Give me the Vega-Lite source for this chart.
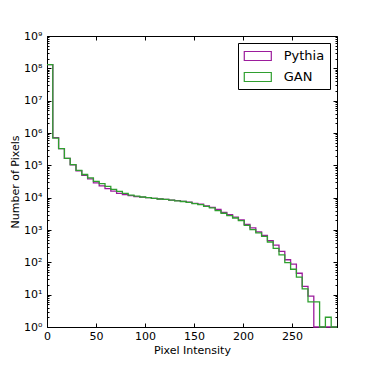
{
  "$schema": "https://vega.github.io/schema/vega-lite/v6.json",
  "width": 290,
  "height": 291,
  "autosize": {"type": "none"},
  "padding": {"left": 47, "top": 36, "right": 37, "bottom": 47},
  "background": "white",
  "config": {
    "view": {"stroke": "black", "strokeWidth": 1},
    "font": "DejaVu Sans",
    "axis": {
      "domainColor": "black",
      "tickColor": "black",
      "labelColor": "black",
      "titleColor": "black",
      "labelFont": "DejaVu Sans",
      "titleFont": "DejaVu Sans",
      "labelFontSize": 11,
      "titleFontSize": 11,
      "titleFontWeight": "normal",
      "grid": false,
      "zindex": 1
    }
  },
  "data": {
    "values": [
      {"series": "Pythia", "x": 0, "count": 130000000},
      {"series": "Pythia", "x": 5.92, "count": 720000},
      {"series": "Pythia", "x": 11.84, "count": 330000},
      {"series": "Pythia", "x": 17.76, "count": 165000},
      {"series": "Pythia", "x": 23.68, "count": 103000},
      {"series": "Pythia", "x": 29.6, "count": 68000},
      {"series": "Pythia", "x": 35.52, "count": 49000},
      {"series": "Pythia", "x": 41.44, "count": 38000},
      {"series": "Pythia", "x": 47.36, "count": 28500},
      {"series": "Pythia", "x": 53.28, "count": 23000},
      {"series": "Pythia", "x": 59.2, "count": 19000},
      {"series": "Pythia", "x": 65.12, "count": 16000},
      {"series": "Pythia", "x": 71.04, "count": 13600},
      {"series": "Pythia", "x": 76.96, "count": 12400},
      {"series": "Pythia", "x": 82.88, "count": 11500},
      {"series": "Pythia", "x": 88.8, "count": 10700},
      {"series": "Pythia", "x": 94.72, "count": 10400},
      {"series": "Pythia", "x": 100.64, "count": 10000},
      {"series": "Pythia", "x": 106.56, "count": 9500},
      {"series": "Pythia", "x": 112.48, "count": 9100},
      {"series": "Pythia", "x": 118.4, "count": 8850},
      {"series": "Pythia", "x": 124.32, "count": 8400},
      {"series": "Pythia", "x": 130.24, "count": 8100},
      {"series": "Pythia", "x": 136.16, "count": 7700},
      {"series": "Pythia", "x": 142.08, "count": 7300},
      {"series": "Pythia", "x": 148, "count": 6700},
      {"series": "Pythia", "x": 153.92, "count": 6300},
      {"series": "Pythia", "x": 159.84, "count": 5600},
      {"series": "Pythia", "x": 165.76, "count": 5000},
      {"series": "Pythia", "x": 171.68, "count": 4300},
      {"series": "Pythia", "x": 177.6, "count": 3500},
      {"series": "Pythia", "x": 183.52, "count": 3000},
      {"series": "Pythia", "x": 189.44, "count": 2500},
      {"series": "Pythia", "x": 195.36, "count": 2050},
      {"series": "Pythia", "x": 201.28, "count": 1500},
      {"series": "Pythia", "x": 207.2, "count": 1160},
      {"series": "Pythia", "x": 213.12, "count": 870},
      {"series": "Pythia", "x": 219.04, "count": 685},
      {"series": "Pythia", "x": 224.96, "count": 467},
      {"series": "Pythia", "x": 230.88, "count": 343},
      {"series": "Pythia", "x": 236.8, "count": 217},
      {"series": "Pythia", "x": 242.72, "count": 120},
      {"series": "Pythia", "x": 248.64, "count": 88},
      {"series": "Pythia", "x": 254.56, "count": 46},
      {"series": "Pythia", "x": 260.48, "count": 18},
      {"series": "Pythia", "x": 266.4, "count": 9},
      {"series": "Pythia", "x": 272.32, "count": 0},
      {"series": "Pythia", "x": 278.24, "count": 0},
      {"series": "Pythia", "x": 284.16, "count": 0},
      {"series": "Pythia", "x": 290.08, "count": 0},
      {"series": "Pythia", "x": 296, "count": 0},
      {"series": "GAN", "x": 0, "count": 130000000},
      {"series": "GAN", "x": 5.92, "count": 690000},
      {"series": "GAN", "x": 11.84, "count": 330000},
      {"series": "GAN", "x": 17.76, "count": 165000},
      {"series": "GAN", "x": 23.68, "count": 105000},
      {"series": "GAN", "x": 29.6, "count": 70000},
      {"series": "GAN", "x": 35.52, "count": 52000},
      {"series": "GAN", "x": 41.44, "count": 41000},
      {"series": "GAN", "x": 47.36, "count": 32000},
      {"series": "GAN", "x": 53.28, "count": 27000},
      {"series": "GAN", "x": 59.2, "count": 22500},
      {"series": "GAN", "x": 65.12, "count": 18000},
      {"series": "GAN", "x": 71.04, "count": 15700},
      {"series": "GAN", "x": 76.96, "count": 13600},
      {"series": "GAN", "x": 82.88, "count": 12000},
      {"series": "GAN", "x": 88.8, "count": 11200},
      {"series": "GAN", "x": 94.72, "count": 10500},
      {"series": "GAN", "x": 100.64, "count": 10000},
      {"series": "GAN", "x": 106.56, "count": 9500},
      {"series": "GAN", "x": 112.48, "count": 9100},
      {"series": "GAN", "x": 118.4, "count": 8800},
      {"series": "GAN", "x": 124.32, "count": 8400},
      {"series": "GAN", "x": 130.24, "count": 8000},
      {"series": "GAN", "x": 136.16, "count": 7600},
      {"series": "GAN", "x": 142.08, "count": 7200},
      {"series": "GAN", "x": 148, "count": 6500},
      {"series": "GAN", "x": 153.92, "count": 6100},
      {"series": "GAN", "x": 159.84, "count": 5400},
      {"series": "GAN", "x": 165.76, "count": 4800},
      {"series": "GAN", "x": 171.68, "count": 4000},
      {"series": "GAN", "x": 177.6, "count": 3300},
      {"series": "GAN", "x": 183.52, "count": 2800},
      {"series": "GAN", "x": 189.44, "count": 2350},
      {"series": "GAN", "x": 195.36, "count": 1950},
      {"series": "GAN", "x": 201.28, "count": 1400},
      {"series": "GAN", "x": 207.2, "count": 1030},
      {"series": "GAN", "x": 213.12, "count": 810},
      {"series": "GAN", "x": 219.04, "count": 635},
      {"series": "GAN", "x": 224.96, "count": 425},
      {"series": "GAN", "x": 230.88, "count": 270},
      {"series": "GAN", "x": 236.8, "count": 171},
      {"series": "GAN", "x": 242.72, "count": 98},
      {"series": "GAN", "x": 248.64, "count": 61},
      {"series": "GAN", "x": 254.56, "count": 35},
      {"series": "GAN", "x": 260.48, "count": 15},
      {"series": "GAN", "x": 266.4, "count": 6},
      {"series": "GAN", "x": 272.32, "count": 6},
      {"series": "GAN", "x": 278.24, "count": 0},
      {"series": "GAN", "x": 284.16, "count": 2},
      {"series": "GAN", "x": 290.08, "count": 0},
      {"series": "GAN", "x": 296, "count": 0}
    ]
  },
  "layer": [
    {
      "mark": {"type": "line", "interpolate": "step-after", "strokeWidth": 1.3},
      "encoding": {
        "x": {
          "field": "x", "type": "quantitative",
          "scale": {"domain": [0, 296], "nice": false, "zero": false},
          "axis": {"orient": "bottom", "values": [0, 50, 100, 150, 200, 250], "tickSize": -4, "labelPadding": 7, "labelFlush": false, "labelOverlap": false, "title": "Pixel Intensity", "titlePadding": 3}
        },
        "y": {
          "field": "count", "type": "quantitative",
          "scale": {"type": "log", "domain": [1, 1000000000], "nice": false, "clamp": true},
          "axis": {
            "orient": "left",
            "values": [1,2,3,4,5,6,7,8,9,10,20,30,40,50,60,70,80,90,100,200,300,400,500,600,700,800,900,1000,2000,3000,4000,5000,6000,7000,8000,9000,10000,20000,30000,40000,50000,60000,70000,80000,90000,100000,200000,300000,400000,500000,600000,700000,800000,900000,1000000,2000000,3000000,4000000,5000000,6000000,7000000,8000000,9000000,10000000,20000000,30000000,40000000,50000000,60000000,70000000,80000000,90000000,100000000,200000000,300000000,400000000,500000000,600000000,700000000,800000000,900000000,1000000000],
            "labelExpr": "abs(log(datum.value)/LN10 - round(log(datum.value)/LN10)) < 0.001 ? '10' + ['⁰','¹','²','³','⁴','⁵','⁶','⁷','⁸','⁹'][round(log(datum.value)/LN10)] : ''",
            "tickSize": {"condition": {"test": "abs(log(datum.value)/LN10 - round(log(datum.value)/LN10)) < 0.001", "value": -4}, "value": -2},
            "labelPadding": 9,
            "labelOverlap": false,
            "labelBound": false,
            "labelFlush": false,
            "title": "Number of Pixels",
            "titlePadding": 3
          }
        },
        "color": {
          "field": "series", "type": "nominal",
          "scale": {"domain": ["Pythia", "GAN"], "range": ["#9c1c9c", "#2f9f2f"]},
          "legend": {
            "title": null,
            "orient": "top-right",
            "offset": 7,
            "strokeColor": "black",
            "fillColor": "white",
            "padding": 5,
            "cornerRadius": 0,
            "symbolType": "M-0.96,-0.643H2.9V0.643H-0.96Z",
            "symbolSize": 196,
            "symbolStrokeWidth": 1.2,
            "symbolFillColor": "white",
            "labelFontSize": 13,
            "labelFont": "DejaVu Sans",
            "labelColor": "black",
            "labelOffset": 24.7,
            "rowPadding": 6
          }
        }
      }
    },
    {
      "mark": {"type": "line", "strokeOpacity": 0},
      "encoding": {
        "x": {
          "field": "x", "type": "quantitative",
          "axis": {"orient": "top", "values": [0, 50, 100, 150, 200, 250], "tickSize": -4, "labels": false, "domain": false, "title": null}
        },
        "y": {
          "field": "count", "type": "quantitative",
          "axis": {
            "orient": "right",
            "values": [1,2,3,4,5,6,7,8,9,10,20,30,40,50,60,70,80,90,100,200,300,400,500,600,700,800,900,1000,2000,3000,4000,5000,6000,7000,8000,9000,10000,20000,30000,40000,50000,60000,70000,80000,90000,100000,200000,300000,400000,500000,600000,700000,800000,900000,1000000,2000000,3000000,4000000,5000000,6000000,7000000,8000000,9000000,10000000,20000000,30000000,40000000,50000000,60000000,70000000,80000000,90000000,100000000,200000000,300000000,400000000,500000000,600000000,700000000,800000000,900000000,1000000000],
            "tickSize": {"condition": {"test": "abs(log(datum.value)/LN10 - round(log(datum.value)/LN10)) < 0.001", "value": -4}, "value": -2},
            "labels": false,
            "domain": false,
            "title": null
          }
        }
      }
    }
  ],
  "resolve": {"axis": {"x": "independent", "y": "independent"}}
}
